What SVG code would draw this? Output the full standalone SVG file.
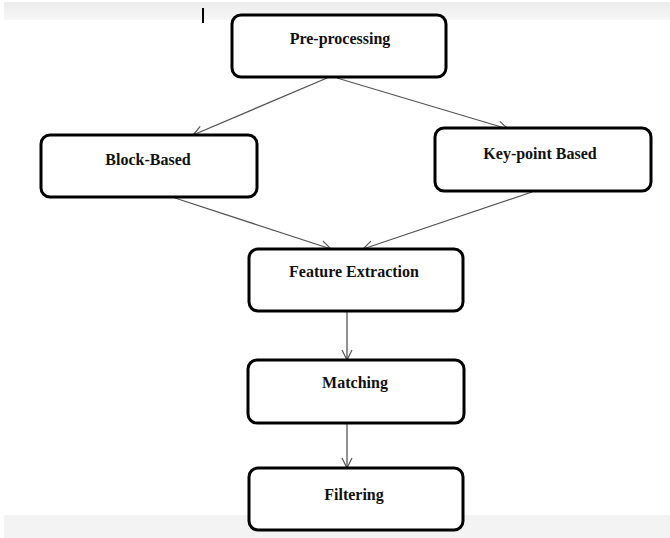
<svg xmlns="http://www.w3.org/2000/svg" width="670" height="538" viewBox="0 0 670 538">
<defs>
<linearGradient id="bandTop" x1="0" y1="0" x2="0" y2="1">
<stop offset="0" stop-color="#ececec"/>
<stop offset="1" stop-color="#f6f6f6"/>
</linearGradient>
<marker id="arr" viewBox="0 0 12 12" refX="11" refY="6" markerWidth="12" markerHeight="12" markerUnits="userSpaceOnUse" orient="auto">
<path d="M1,1 L11,6 L1,11" fill="none" stroke="#555" stroke-width="1.2"/>
</marker>
<style>
.box{fill:#fff;stroke:#000;stroke-width:3}
.lbl{font-family:"Liberation Serif","Times New Roman",serif;font-weight:bold;font-size:16px;fill:#111;text-anchor:middle}
.edge{stroke:#555;stroke-width:1.3;fill:none;marker-end:url(#arr)}
</style>
</defs>
<rect x="0" y="0" width="670" height="538" fill="#fff"/>
<rect x="4" y="2" width="666" height="18" fill="url(#bandTop)"/>
<rect x="4" y="515" width="666" height="23" fill="#f3f3f3"/>
<rect x="202" y="8" width="2" height="15" fill="#000"/>
<g id="connectors">
<line class="edge" x1="327" y1="78" x2="193" y2="135"/>
<line class="edge" x1="337" y1="78" x2="508" y2="129"/>
<line class="edge" x1="175" y1="198" x2="331" y2="249"/>
<line class="edge" x1="532" y1="192" x2="363" y2="249"/>
<line class="edge" x1="347" y1="312" x2="347" y2="360"/>
<line class="edge" x1="347" y1="424" x2="347" y2="468"/>
</g>
<g id="pre-processing">
<rect class="box" x="232" y="15" width="214" height="62" rx="9"/>
<text class="lbl" x="340" y="44">Pre-processing</text>
</g>
<g id="block-based">
<rect class="box" x="41" y="135" width="216" height="62" rx="9"/>
<text class="lbl" x="148" y="165">Block-Based</text>
</g>
<g id="key-point-based">
<rect class="box" x="435" y="128" width="216" height="63" rx="9"/>
<text class="lbl" x="540" y="159">Key-point Based</text>
</g>
<g id="feature-extraction">
<rect class="box" x="249" y="249" width="214" height="62" rx="9"/>
<text class="lbl" x="354" y="277">Feature Extraction</text>
</g>
<g id="matching">
<rect class="box" x="248" y="360" width="216" height="63" rx="9"/>
<text class="lbl" x="355" y="388">Matching</text>
</g>
<g id="filtering">
<rect class="box" x="249" y="468" width="214" height="62" rx="9"/>
<text class="lbl" x="354" y="500">Filtering</text>
</g>
</svg>
